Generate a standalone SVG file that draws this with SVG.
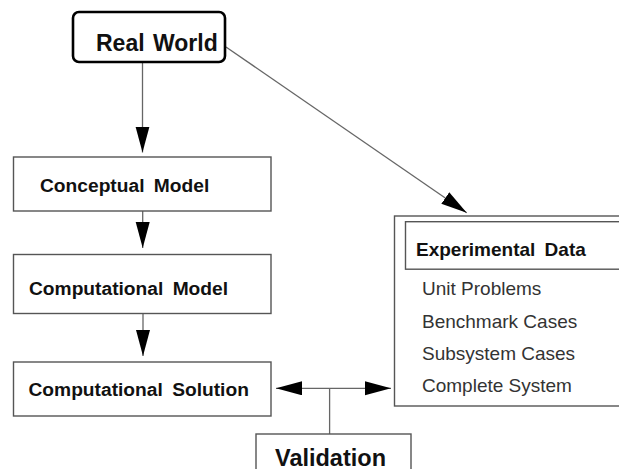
<svg xmlns="http://www.w3.org/2000/svg" width="619" height="469" viewBox="0 0 619 469">
<style>
.box{fill:#fff;stroke:#555;stroke-width:1.4}
.rw{fill:#fff;stroke:#000;stroke-width:2.6}
.lbl{font-family:"Liberation Sans",Arial,sans-serif;font-weight:bold;fill:#111;word-spacing:4px}
.item{font-family:"Liberation Sans",Arial,sans-serif;font-size:19px;fill:#333}
.ln{stroke:#666;stroke-width:1.3;fill:none}
</style>
<defs>
<marker id="ah" markerUnits="userSpaceOnUse" markerWidth="27" markerHeight="15" refX="26" refY="7" orient="auto-start-reverse" viewBox="0 0 27 15">
<path d="M0,0 L26,7 L0,14 z" fill="#000"/>
</marker>
</defs>
<rect width="619" height="469" fill="#fff"/>
<g id="connectors">
<line class="ln" x1="142.5" y1="62" x2="142.5" y2="152.5" marker-end="url(#ah)"/>
<line class="ln" x1="142.7" y1="211" x2="142.7" y2="248" marker-end="url(#ah)"/>
<line class="ln" x1="143" y1="314" x2="143" y2="356" marker-end="url(#ah)"/>
<line class="ln" x1="226" y1="47" x2="466.7" y2="212.7" marker-end="url(#ah)"/>
<line class="ln" x1="276" y1="388.3" x2="391" y2="388.3" marker-start="url(#ah)" marker-end="url(#ah)"/>
<line class="ln" x1="329.6" y1="388.3" x2="329.6" y2="434"/>
</g>
<g id="real-world">
<rect class="rw" x="73" y="12" width="152" height="50" rx="6"/>
<text class="lbl" x="96" y="51" font-size="23" style="word-spacing:2px">Real World</text>
</g>
<g id="conceptual-model">
<rect class="box" x="13.5" y="157" width="257.5" height="54"/>
<text class="lbl" x="40" y="192" font-size="19.2">Conceptual Model</text>
</g>
<g id="computational-model">
<rect class="box" x="13.5" y="254.5" width="257.5" height="59"/>
<text class="lbl" x="29" y="295" font-size="19.2">Computational Model</text>
</g>
<g id="computational-solution">
<rect class="box" x="13.5" y="362" width="257.5" height="54"/>
<text class="lbl" x="28.5" y="396" font-size="19.2">Computational Solution</text>
</g>
<g id="experimental-data">
<rect class="box" x="394.5" y="216" width="240" height="190"/>
<rect class="box" x="405.5" y="221.7" width="230" height="47.5"/>
<text class="lbl" x="416" y="256" font-size="19">Experimental Data</text>
<text class="item" x="422" y="295">Unit Problems</text>
<text class="item" x="422" y="327.7">Benchmark Cases</text>
<text class="item" x="422" y="360">Subsystem Cases</text>
<text class="item" x="422" y="392.3">Complete System</text>
</g>
<g id="validation">
<rect class="box" x="256" y="434" width="155" height="50"/>
<text class="lbl" x="275" y="466" font-size="23.5">Validation</text>
</g>
</svg>
